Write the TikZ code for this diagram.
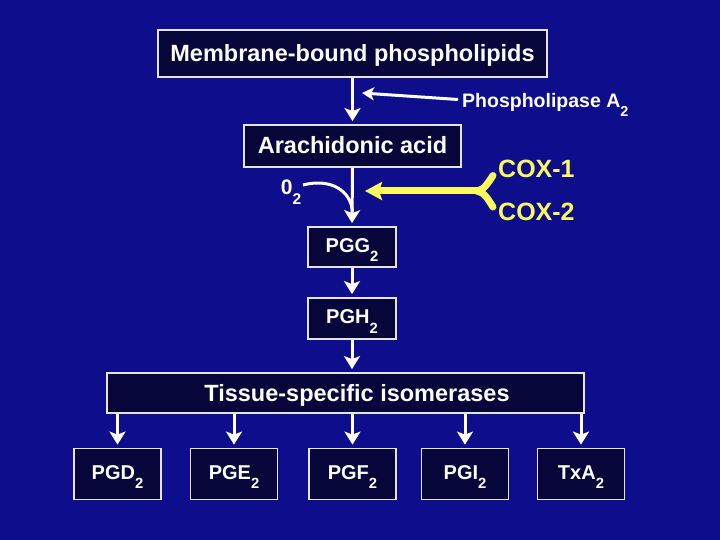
\documentclass[tikz,border=0pt]{standalone}
\usepackage{fontspec}
\setmainfont{Liberation Sans}
\usetikzlibrary{arrows.meta,calc}
\definecolor{bgblue}{RGB}{14,14,140}
\definecolor{boxfill}{RGB}{6,6,58}
\definecolor{edgecol}{RGB}{228,228,238}
\definecolor{coxyellow}{RGB}{250,250,95}
\newcommand\lowtwo{\raisebox{-0.47em}{\scalebox{0.74}{2}}}
\begin{document}
\begin{tikzpicture}[x=1pt,y=-1pt,
  box/.style={draw=edgecol, line width=1.8pt, fill=boxfill, text=white, inner sep=0pt,
    font=\bfseries\fontsize{23.5}{26}\selectfont, text height=17pt, text depth=1pt},
  small/.style={box, font=\bfseries\fontsize{20}{24}\selectfont, text height=14.3pt, text depth=4pt,
    minimum width=87, minimum height=51},
  flow/.style={draw=white, line width=3pt, -{Stealth[width=16pt,length=13pt,inset=3pt]}, shorten >=3pt},
  cox/.style={draw=coxyellow, line width=7pt, line cap=round}
  ]
\fill[bgblue] (0,0) rectangle (720,540);
\useasboundingbox (0,0) rectangle (720,540);

\node[box, minimum width=389, minimum height=47] (mem) at (352.5,53.5) {Membrane-bound phospholipids};
\node[box, minimum width=217, minimum height=42] (arach) at (352.5,146) {Arachidonic acid};
\node[small, minimum width=88, minimum height=40] (pgg) at (352,247) {PGG\lowtwo};
\node[small, minimum width=88, minimum height=41] (pgh) at (352,318.5) {PGH\lowtwo};
\node[box, minimum width=477, minimum height=40] (tissue) at (345.5,393) {};
\node[text=white, inner sep=0pt, font=\bfseries\fontsize{23.5}{26}\selectfont, text height=17pt, text depth=1pt] (tissuetext) at (357,393) {Tissue-specific isomerases};

\node[small] (pgd) at (117.5,474) {PGD\lowtwo};
\node[small] (pge) at (234,474) {PGE\lowtwo};
\node[small] (pgf) at (352.5,474) {PGF\lowtwo};
\node[small] (pgi) at (465,474) {PGI\lowtwo};
\node[small] (txa) at (581,474) {TxA\lowtwo};

\node[text=white, anchor=west, inner sep=0pt, font=\bfseries\fontsize{19.5}{22}\selectfont, text height=14pt, text depth=0pt] (pla) at (462,100.5) {Phospholipase A\lowtwo};
\node[text=white, inner sep=0pt, font=\bfseries\fontsize{21}{24}\selectfont, text height=15pt, text depth=0pt] (o2) at (291,187.5) {0\lowtwo};
\node[text=coxyellow, anchor=west, inner sep=0pt, font=\bfseries\fontsize{25}{28}\selectfont, text height=17.5pt, text depth=0pt] (cox1) at (498,168.5) {COX-1};
\node[text=coxyellow, anchor=west, inner sep=0pt, font=\bfseries\fontsize{25}{28}\selectfont, text height=17.5pt, text depth=0pt] (cox2) at (498,212) {COX-2};

% main flow
\draw[flow] (mem.south) -- (arach.north);
\draw[flow] (arach.south) -- (pgg.north);
\draw[flow] (pgg.south) -- (pgh.north);
\draw[flow] (pgh.south) -- (pgh.south |- tissue.north);
\foreach \b in {pgd,pge,pgf,pgi,txa}
  \draw[flow] (tissue.south -| \b.north) -- (\b.north);

% phospholipase arrow
\coordinate (platip) at (362,93);
\draw[draw=white, line width=3pt, -{Stealth[width=13pt,length=12pt,inset=3pt]}] ([xshift=-4pt,yshift=1pt]pla.west) -- (platip);

% O2 curve
\coordinate (o2s) at (303,185);
\coordinate (mrg) at (352.5,212);
\draw[white, line width=3pt] (o2s) .. controls (330,178) and (351,190) .. (mrg);

% COX arrow
\coordinate (yj) at (477,191);
\coordinate (coxtip) at (365,191);
\draw[cox] ([xshift=-5pt,yshift=-7pt]cox1.west) .. controls (488,183) and (484,190) .. (yj);
\draw[cox] ([xshift=-5pt,yshift=5pt]cox2.west) .. controls (488,199) and (484,192) .. (yj);
\draw[draw=coxyellow, line width=7pt, -{Stealth[width=18pt,length=17pt,inset=3pt]}] (yj) -- (coxtip);
\end{tikzpicture}
\end{document}
